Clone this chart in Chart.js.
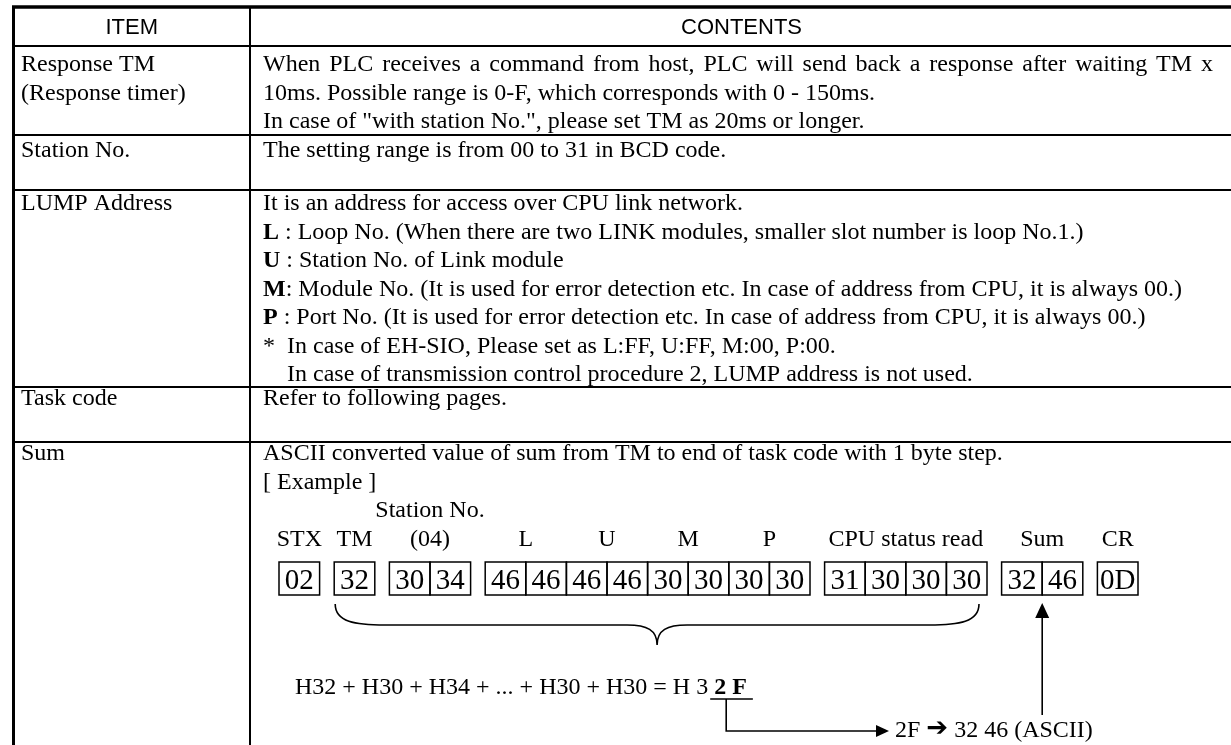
<!DOCTYPE html>
<html>
<head>
<meta charset="utf-8">
<script src="https://cdn.jsdelivr.net/npm/chart.js@4"></script>
<style>
  html, body { margin: 0; padding: 0; background: #fff; }
  canvas { display: block; }
</style>
</head>
<body>
<canvas id="table-chart" width="1231" height="745"></canvas>
<script>
// table data
const headers = ['ITEM', 'CONTENTS'];
const items = [
    ['Response TM', '(Response timer)'],
    ['Station No.'],
    ['LUMP Address'],
    ['Task code'],
    ['Sum']
];
// each line: [bold prefix, normal text]
const contents = [
    [
        ['', 'When PLC receives a command from host, PLC will send back a response after waiting TM x'],
        ['', '10ms. Possible range is 0-F, which corresponds with 0 - 150ms.'],
        ['', 'In case of "with station No.", please set TM as 20ms or longer.']
    ],
    [
        ['', 'The setting range is from 00 to 31 in BCD code.']
    ],
    [
        ['', 'It is an address for access over CPU link network.'],
        ['L', ' : Loop No. (When there are two LINK modules, smaller slot number is loop No.1.)'],
        ['U', ' : Station No. of Link module'],
        ['M', ': Module No. (It is used for error detection etc. In case of address from CPU, it is always 00.)'],
        ['P', ' : Port No. (It is used for error detection etc. In case of address from CPU, it is always 00.)'],
        ['', '*'],
        ['', 'In case of transmission control procedure 2, LUMP address is not used.']
    ],
    [
        ['', 'Refer to following pages.']
    ],
    [
        ['', 'ASCII converted value of sum from TM to end of task code with 1 byte step.'],
        ['', '[ Example ]']
    ]
];
const starNote = 'In case of EH-SIO, Please set as L:FF, U:FF, M:00, P:00.';

// example frame
const frameGroups = [['02'], ['32'], ['30', '34'], ['46', '46', '46', '46', '30', '30', '30', '30'], ['31', '30', '30', '30'], ['32', '46'], ['0D']];
// label, group, first cell, cell count
const frameFields = [
    ['STX', 0, 0, 1], ['TM', 1, 0, 1], ['(04)', 2, 0, 2], ['L', 3, 0, 2], ['U', 3, 2, 2],
    ['M', 3, 4, 2], ['P', 3, 6, 2], ['CPU status read', 4, 0, 4], ['Sum', 5, 0, 2], ['CR', 6, 0, 1]
];
const stationLabel = 'Station No.';
const sumFormula = ['H32 + H30 + H34 + ... + H30 + H30 = H 3 ', '2 F'];
const sumResult = ['2F ', '\u2794', ' 32 46 (ASCII)'];

// layout
const SERIF = '"Liberation Serif", "Times New Roman", serif';
const SANS = '"Liberation Sans", Arial, sans-serif';
const X_LEFT = 13.5, X_DIV = 250, X_RIGHT = 1233;
const X_ITEM = 21, X_TEXT = 263, X_JUST = 1213, X_INDENT = 287;
const Y_TOP = 7, Y_HEAD = 46;
const ROW_BOTTOMS = [135, 190, 387, 442, 745];
const FIRST_BASE = [71, 157, 210, 405, 460];
const LINE_H = 28.5;
const BOX_X0 = 279, CELL_W = 40.6, GROUP_GAP = 14.6, BOX_TOP = 562, BOX_BOT = 595;

const tablePlugin = {
    id: 'tableDraw',
    beforeDraw(chart) {
        const ctx = chart.ctx;
        ctx.save();
        ctx.fillStyle = '#fff';
        ctx.fillRect(0, 0, chart.width, chart.height);
        ctx.restore();
    },
    afterDraw(chart) {
        const ctx = chart.ctx;
        const sx = chart.scales.x, sy = chart.scales.y;
        const px = v => sx.getPixelForValue(v);
        const py = v => sy.getPixelForValue(v);

        ctx.save();
        ctx.strokeStyle = '#000';
        ctx.fillStyle = '#000';

        const hline = (x1, x2, y, w) => {
            ctx.lineWidth = w;
            ctx.beginPath();
            ctx.moveTo(px(x1), py(y));
            ctx.lineTo(px(x2), py(y));
            ctx.stroke();
        };
        const vline = (x, y1, y2, w) => {
            ctx.lineWidth = w;
            ctx.beginPath();
            ctx.moveTo(px(x), py(y1));
            ctx.lineTo(px(x), py(y2));
            ctx.stroke();
        };

        // grid
        hline(X_LEFT - 1.5, X_RIGHT, Y_TOP, 3.5);
        hline(X_LEFT, X_RIGHT, Y_HEAD, 2);
        ROW_BOTTOMS.slice(0, -1).forEach(y => hline(X_LEFT, X_RIGHT, y, 2));
        vline(X_LEFT, Y_TOP, 745, 3);
        vline(X_DIV, Y_TOP, 745, 2);

        // header
        ctx.font = '22px ' + SANS;
        ctx.textAlign = 'center';
        ctx.textBaseline = 'alphabetic';
        ctx.fillText(headers[0], px((X_LEFT + X_DIV) / 2), py(34));
        ctx.fillText(headers[1], px((X_DIV + X_RIGHT) / 2), py(34));

        // rows
        ctx.textAlign = 'left';
        const font = '24px ' + SERIF;
        const bold = 'bold 24px ' + SERIF;
        items.forEach((lines, r) => {
            ctx.font = font;
            lines.forEach((t, i) => ctx.fillText(t, px(X_ITEM), py(FIRST_BASE[r] + i * LINE_H)));
            contents[r].forEach((seg, i) => {
                const y = py(FIRST_BASE[r] + i * LINE_H);
                let x = X_TEXT;
                if (r === 2 && i === 6) x = X_INDENT;
                if (r === 0 && i === 0) {
                    // justified line
                    ctx.font = font;
                    const words = seg[1].split(' ');
                    const total = words.reduce((s, w) => s + ctx.measureText(w).width, 0);
                    const gap = (X_JUST - X_TEXT - total) / (words.length - 1);
                    let cx = px(X_TEXT);
                    words.forEach(w => {
                        ctx.fillText(w, cx, y);
                        cx += ctx.measureText(w).width + gap;
                    });
                    return;
                }
                let cx = px(x);
                if (seg[0]) {
                    ctx.font = bold;
                    ctx.fillText(seg[0], cx, y);
                    cx += ctx.measureText(seg[0]).width;
                }
                ctx.font = font;
                ctx.fillText(seg[1], cx, y);
                if (seg[1] === '*') ctx.fillText(starNote, px(X_INDENT), y);
            });
        });

        // example frame boxes
        const cellX = (g, c) => {
            let n = 0;
            for (let i = 0; i < g; i++) n += frameGroups[i].length;
            return BOX_X0 + (n + c) * CELL_W + g * GROUP_GAP;
        };
        ctx.font = '29px ' + SERIF;
        ctx.textAlign = 'center';
        ctx.lineWidth = 1.5;
        frameGroups.forEach((cells, g) => {
            cells.forEach((v, c) => {
                const x0 = cellX(g, c);
                ctx.strokeRect(px(x0), py(BOX_TOP), px(x0 + CELL_W) - px(x0), py(BOX_BOT) - py(BOX_TOP));
                ctx.fillText(v, px(x0 + CELL_W / 2), py(BOX_BOT - 6));
            });
        });

        // field labels
        ctx.font = font;
        const labelBase = FIRST_BASE[4] + 3 * LINE_H;
        frameFields.forEach(([t, g, c, n]) => {
            const cx = (cellX(g, c) + cellX(g, c) + n * CELL_W) / 2;
            ctx.fillText(t, px(cx), py(labelBase));
            if (t === '(04)') ctx.fillText(stationLabel, px(cx), py(labelBase - LINE_H));
        });

        // brace under TM .. CPU status read
        const bL = cellX(1, 0) + 1, bR = cellX(4, 4) - 8, bM = (bL + bR) / 2;
        ctx.lineWidth = 1.6;
        ctx.beginPath();
        ctx.moveTo(px(bL), py(604));
        ctx.bezierCurveTo(px(bL), py(622), px(bL + 20), py(625), px(bL + 50), py(625));
        ctx.lineTo(px(bM - 30), py(625));
        ctx.bezierCurveTo(px(bM - 10), py(625), px(bM), py(630), px(bM), py(645));
        ctx.bezierCurveTo(px(bM), py(630), px(bM + 10), py(625), px(bM + 30), py(625));
        ctx.lineTo(px(bR - 50), py(625));
        ctx.bezierCurveTo(px(bR - 20), py(625), px(bR), py(622), px(bR), py(604));
        ctx.stroke();

        // formula
        ctx.textAlign = 'left';
        ctx.font = font;
        let fx = px(295);
        const fy = py(694);
        ctx.fillText(sumFormula[0], fx, fy);
        fx += ctx.measureText(sumFormula[0]).width;
        ctx.font = bold;
        ctx.fillText(sumFormula[1], fx, fy);
        const bw = ctx.measureText(sumFormula[1]).width;
        const uL = fx - px(4), uR = fx + bw + 6;
        ctx.lineWidth = 1.6;
        ctx.beginPath();
        ctx.moveTo(uL, py(699));
        ctx.lineTo(uR, py(699));
        ctx.stroke();
        const vx = uL + 16;
        ctx.beginPath();
        ctx.moveTo(vx, py(699));
        ctx.lineTo(vx, py(731));
        ctx.lineTo(px(877), py(731));
        ctx.stroke();
        ctx.beginPath();
        ctx.moveTo(px(889), py(731));
        ctx.lineTo(px(876), py(725));
        ctx.lineTo(px(876), py(737));
        ctx.closePath();
        ctx.fill();

        // result text
        let rx = px(895);
        const ry = py(737);
        ctx.font = font;
        ctx.fillText(sumResult[0], rx, ry);
        rx += ctx.measureText(sumResult[0]).width;
        ctx.font = 'bold 26px "DejaVu Sans", sans-serif';
        ctx.fillText(sumResult[1], rx, ry - 1);
        rx += ctx.measureText(sumResult[1]).width;
        ctx.font = font;
        ctx.fillText(sumResult[2], rx, ry);

        // arrow up to Sum box
        const ax = cellX(5, 1);
        ctx.lineWidth = 1.6;
        ctx.beginPath();
        ctx.moveTo(px(ax), py(715));
        ctx.lineTo(px(ax), py(615));
        ctx.stroke();
        ctx.beginPath();
        ctx.moveTo(px(ax), py(603));
        ctx.lineTo(px(ax - 7), py(618));
        ctx.lineTo(px(ax + 7), py(618));
        ctx.closePath();
        ctx.fill();

        ctx.restore();
    }
};

new Chart(document.getElementById('table-chart').getContext('2d'), {
    type: 'scatter',
    data: { datasets: [{ data: [] }] },
    options: {
        responsive: false,
        animation: false,
        devicePixelRatio: 1,
        layout: { padding: 0 },
        plugins: { legend: { display: false }, tooltip: { enabled: false } },
        scales: {
            x: { type: 'linear', min: 0, max: 1231, display: false },
            y: { type: 'linear', min: 0, max: 745, reverse: true, display: false }
        }
    },
    plugins: [tablePlugin]
});
</script>
</body>
</html>
